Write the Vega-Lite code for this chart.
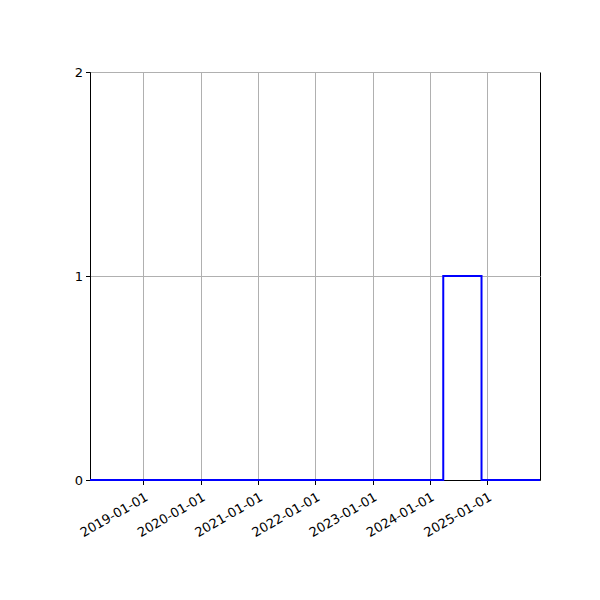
{
  "$schema": "https://vega.github.io/schema/vega-lite/v6.json",
  "width": 450,
  "height": 408,
  "autosize": {"type": "none"},
  "padding": {"left": 90, "top": 72, "right": 60, "bottom": 120},
  "background": "white",
  "config": {
    "view": {"stroke": "black", "strokeWidth": 1},
    "font": "DejaVu Sans",
    "axis": {
      "labelFont": "DejaVu Sans",
      "labelFontSize": 13,
      "labelColor": "black",
      "tickColor": "black",
      "tickSize": 4.5,
      "domainColor": "black",
      "domainWidth": 1,
      "gridColor": "#b0b0b0",
      "gridWidth": 1,
      "title": null,
      "labelPadding": 3
    }
  },
  "data": {
    "values": [
      {"date": "2018-01-25", "value": 0},
      {"date": "2024-03-27", "value": 1},
      {"date": "2024-11-26", "value": 0},
      {"date": "2025-12-04", "value": 0}
    ]
  },
  "mark": {"type": "line", "interpolate": "step-after", "color": "blue", "strokeWidth": 2, "clip": false},
  "encoding": {
    "x": {
      "field": "date",
      "type": "temporal",
      "scale": {"domain": ["2018-01-25", "2025-12-04"], "nice": false},
      "axis": {
        "values": ["2019-01-01", "2020-01-01", "2021-01-01", "2022-01-01", "2023-01-01", "2024-01-01", "2025-01-01"],
        "format": "%Y-%m-%d",
        "labelAngle": -30,
        "labelAlign": "right",
        "labelBaseline": "top",
        "labelOverlap": false,
        "labelFlush": false,
        "labelPadding": 6,
        "labelDx": -4
      }
    },
    "y": {
      "field": "value",
      "type": "quantitative",
      "scale": {"domain": [0, 2], "nice": false, "zero": false},
      "axis": {"tickCount": 2, "format": "d", "labelOverlap": false, "labelFlush": false}
    }
  }
}
